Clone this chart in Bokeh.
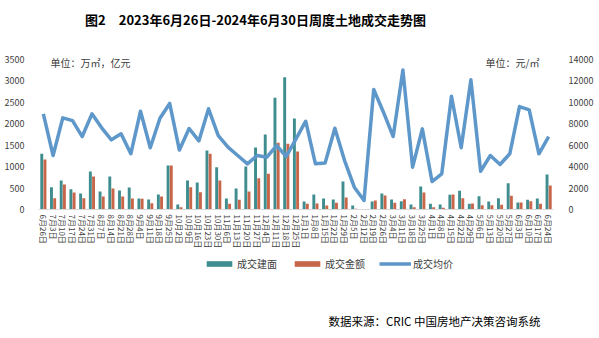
import math
from bokeh.plotting import figure
from bokeh.models import (Range1d, LinearAxis, FixedTicker, Label, Legend, LegendItem,
                          ColumnDataSource, FactorRange, Span)
from bokeh.core.properties import value
from bokeh.transform import dodge
from bokeh.embed import file_html
from bokeh.resources import INLINE

weeks = ["6月26日", "7月3日", "7月10日", "7月17日", "7月24日", "7月31日", "8月7日", "8月14日",
         "8月21日", "8月28日", "9月4日", "9月11日", "9月18日", "9月25日", "10月2日", "10月9日",
         "10月16日", "10月23日", "10月30日", "11月6日", "11月13日", "11月20日", "11月27日",
         "12月4日", "12月11日", "12月18日", "12月25日", "1月1日", "1月8日", "1月15日", "1月22日",
         "1月29日", "2月5日", "2月12日", "2月19日", "2月26日", "3月4日", "3月11日", "3月18日",
         "3月25日", "4月1日", "4月8日", "4月15日", "4月22日", "4月29日", "5月6日", "5月13日",
         "5月20日", "5月27日", "6月3日", "6月10日", "6月17日", "6月24日"]

area = [1300, 520, 677, 474, 373, 887, 420, 770, 443, 513, 257, 233, 350, 1027, 117, 677,
        630, 1377, 988, 257, 490, 1003, 1447, 1750, 2606, 3087, 2123, 187, 350, 257, 233,
        653, 93, 10, 187, 373, 233, 190, 117, 537, 132, 117, 342, 435, 132, 311, 187, 264,
        614, 163, 225, 257, 817]

amount = [1167, 264, 583, 397, 264, 770, 303, 490, 303, 257, 250, 148, 303, 1027, 50, 520,
          404, 1300, 677, 132, 225, 420, 731, 832, 1556, 1533, 1353, 132, 140, 93, 155,
          280, 15, 5, 210, 327, 155, 240, 50, 397, 50, 40, 350, 264, 140, 100, 100, 110,
          318, 163, 194, 132, 560]

price = [8930, 5040, 8556, 8300, 6810, 8930, 7620, 6500, 7060, 5200, 9170, 5760, 8520, 9900,
         5550, 7560, 6400, 9400, 6900, 5820, 5040, 4260, 5040, 4880, 5970, 4950, 6600, 8240,
         4260, 4350, 7590, 4570, 2080, 840, 11200, 9080, 6810, 13030, 3950, 7530, 2610, 3330,
         10570, 5760, 12100, 3570, 5040, 4200, 5200, 9610, 9300, 5200, 6810]

left_ticks = [0, 500, 1000, 1500, 2000, 2500, 3000, 3500]
right_ticks = [0, 2000, 4000, 6000, 8000, 10000, 12000, 14000]

series_names = ["成交建面", "成交金额", "成交均价"]
title_text = "图2　2023年6月26日-2024年6月30日周度土地成交走势图"
unit_left = "单位：万㎡，亿元"
unit_right = "单位：元/㎡"
source_text = "数据来源：CRIC 中国房地产决策咨询系统"

TEAL = "#3f8d8e"
ORANGE = "#c8664a"
BLUE = "#5e97c9"
FONT = "Noto Sans CJK SC"
TXT = "#404040"

W, H = 599, 338
FL, FR = 38, 553          # frame left / right in pixels
Y0, Y_TOP = 209, 59       # pixel rows of value 0 and of the top tick

# the frame covers the full height; value ranges are chosen so that
# 0 lies at row Y0 and the top tick at row Y_TOP
lpp = left_ticks[-1] / (Y0 - Y_TOP)
rpp = right_ticks[-1] / (Y0 - Y_TOP)
left_range = Range1d(-(H - Y0) * lpp, Y0 * lpp)
right_range = Range1d(-(H - Y0) * rpp, Y0 * rpp)

src = ColumnDataSource(dict(week=weeks, area=area, amount=amount, price=price,
                            base=[0] * len(weeks)))

p = figure(width=W, height=H, x_range=FactorRange(*weeks, range_padding=0),
           y_range=left_range, output_backend="svg", toolbar_location=None,
           x_axis_location=None,
           min_border_left=FL, min_border_right=W - FR, min_border_top=0,
           min_border_bottom=0)
p.title.visible = False
p.outline_line_color = None
p.xgrid.visible = False
p.ygrid.visible = False
p.background_fill_color = "white"
p.border_fill_color = "white"

p.extra_y_ranges = {"price": right_range}

p.add_layout(Span(location=0, dimension="width", line_color="#d9d9d9", line_width=1))

b1 = p.vbar(x=dodge("week", -0.165, range=p.x_range), top="area", width=0.3, source=src,
            fill_color=TEAL, line_color=None)
b2 = p.vbar(x=dodge("week", 0.165, range=p.x_range), top="amount", width=0.3, source=src,
            fill_color=ORANGE, line_color=None)
l1 = p.line(x="week", y="price", source=src, y_range_name="price", line_color=BLUE,
            line_width=3.5, line_join="round")

# category labels under the baseline, rotated to read top-to-bottom
p.text(x="week", y="base", text="week", source=src, angle=-math.pi / 2, y_offset=5,
       text_font=value(FONT), text_font_size=value("8px"), text_color=TXT,
       text_align="left", text_baseline="middle")

# left axis
ya = p.yaxis[0]
ya.ticker = FixedTicker(ticks=left_ticks)
ya.axis_line_color = None
ya.major_tick_line_color = None
ya.minor_tick_line_color = None
ya.major_label_text_font = FONT
ya.major_label_text_font_size = "9px"
ya.major_label_text_color = TXT
ya.major_label_standoff = 8

# right axis
ra = LinearAxis(y_range_name="price", ticker=FixedTicker(ticks=right_ticks))
ra.axis_line_color = None
ra.major_tick_line_color = None
ra.minor_tick_line_color = None
ra.major_label_text_font = FONT
ra.major_label_text_font_size = "9px"
ra.major_label_text_color = TXT
ra.major_label_standoff = 9
p.add_layout(ra, "right")


def lab(text, cx, cy, size, bold=False, align="left", color=TXT):
    p.add_layout(Label(x=cx - FL, y=H - cy, x_units="screen", y_units="screen", text=text,
                       text_font=FONT, text_font_size=size, text_align=align,
                       text_baseline="middle", text_color=color,
                       text_font_style="bold" if bold else "normal"))


lab(title_text, 255, 19, "13px", bold=True, align="center", color="#000000")
lab(unit_left, 50, 62, "10px")
lab(unit_right, 485, 62, "10px")
lab(source_text, 328, 320, "11.5px", color="#000000")

legend = Legend(items=[LegendItem(label=series_names[0], renderers=[b1]),
                       LegendItem(label=series_names[1], renderers=[b2]),
                       LegendItem(label=series_names[2], renderers=[l1])],
                location=(203 - FL, H - 271), orientation="horizontal",
                glyph_width=32, glyph_height=7, label_height=12, label_standoff=2,
                spacing=14, padding=0, margin=0, border_line_color=None,
                background_fill_alpha=0, label_text_font=FONT,
                label_text_font_size="10px", label_text_color=TXT)
p.add_layout(legend, "center")

open("out.html", "w").write(file_html(p, INLINE))
